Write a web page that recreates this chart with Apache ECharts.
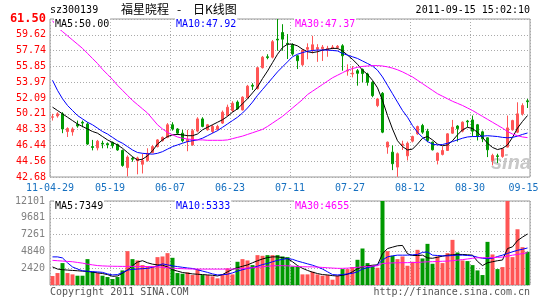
<!DOCTYPE html>
<html><head><meta charset="utf-8">
<script src="https://cdn.jsdelivr.net/npm/echarts/dist/echarts.min.js"></script>
<style>html,body{margin:0;padding:0;background:#fff;}#c{width:545px;height:300px;}</style>
</head><body><div id="c"></div>
<script>
const categories = ['05-03','05-04','05-05','05-06','05-09','05-10','05-11','05-12','05-13','05-16','05-17','05-18','05-19','05-20','05-23','05-24','05-25','05-26','05-27','05-30','05-31',
'06-01','06-02','06-03','06-07','06-08','06-09','06-10','06-13','06-14','06-15','06-16','06-17','06-20','06-21','06-22','06-23','06-24','06-27','06-28','06-29','06-30',
'07-01','07-04','07-05','07-06','07-07','07-08','07-11','07-12','07-13','07-14','07-15','07-18','07-19','07-20','07-21','07-22','07-25','07-26','07-27','07-28','07-29',
'08-01','08-02','08-03','08-04','08-05','08-08','08-09','08-10','08-11','08-12','08-15','08-16','08-17','08-18','08-19','08-22','08-23','08-24','08-25','08-26','08-29','08-30','08-31',
'09-01','09-02','09-05','09-06','09-07','09-08','09-09','09-13','09-14','09-15'];
const dateTicks = ['11-04-29','05-19','06-07','06-23','07-11','07-27','08-12','08-30','09-15'];
const priceTicks = ['42.68','44.56','46.44','48.33','50.21','52.09','53.97','55.85','57.74','59.62','61.50'];
const volTicks = ['','2420','4840','7261','9681','12101'];
const priceMin = 42.68, priceMax = 61.50, volMax = 12101;

const openP = [49.80,49.95,50.20,48.10,48.05,48.95,49.20,49.00,46.30,46.15,
46.70,46.65,46.80,46.55,45.84,43.80,44.90,44.60,44.20,44.65,
45.60,46.30,47.00,47.40,48.90,48.40,47.90,46.90,46.50,48.15,
49.60,48.30,48.10,48.35,49.10,50.00,50.60,51.60,50.67,52.10,
53.60,53.20,55.70,57.00,56.95,59.10,59.89,58.60,58.43,57.12,
56.05,57.90,57.80,57.90,57.95,57.80,58.00,58.10,58.31,55.30,
54.95,55.34,55.50,54.95,53.96,51.19,52.65,46.24,45.64,43.86,
46.45,45.20,46.95,47.82,48.81,48.14,46.83,44.65,45.37,45.84,
47.90,48.75,48.14,49.35,49.48,48.90,48.06,47.35,44.65,45.20,
45.13,46.24,48.30,48.02,50.20,51.75];
const closeP = [49.85,50.20,48.40,48.45,48.40,48.75,49.10,46.60,46.20,46.95,
46.60,46.50,46.40,45.90,44.06,45.05,44.80,44.95,44.65,45.50,
46.30,47.10,47.40,48.90,48.40,47.90,47.00,47.15,48.20,49.60,
48.70,48.90,48.70,48.70,50.40,50.99,51.46,50.80,52.18,53.50,
53.50,55.70,56.95,56.90,58.80,59.00,59.10,58.50,57.32,56.53,
57.80,58.10,58.43,58.10,58.15,58.00,58.15,58.25,57.12,55.40,
55.05,55.03,55.00,53.96,52.37,51.98,48.02,46.83,44.26,45.45,
46.60,46.70,47.50,48.69,48.02,47.03,45.92,45.53,45.84,47.82,
48.61,48.45,49.21,49.25,48.14,47.50,47.23,45.92,45.25,45.13,
46.04,48.53,49.40,50.20,51.19,51.65];
const lowP = [49.40,49.75,47.90,47.45,47.60,48.55,48.60,46.50,45.85,45.85,
46.10,46.10,46.10,45.80,43.90,42.75,44.50,43.00,43.10,44.50,
45.50,46.20,46.90,47.30,48.20,47.70,46.80,45.75,46.40,48.00,
48.60,48.20,47.90,48.20,49.00,49.90,50.40,50.70,50.60,52.05,
53.05,53.10,55.60,56.70,56.80,57.72,57.72,56.73,57.12,55.54,
55.90,56.70,57.40,56.40,56.50,57.00,57.90,57.90,55.34,54.75,
54.55,53.56,53.96,53.56,52.18,51.00,47.90,45.45,43.50,42.70,
45.90,44.65,46.80,47.70,47.82,46.83,45.84,44.18,45.25,45.80,
47.82,46.90,48.00,48.60,47.50,47.03,46.83,45.05,44.06,44.34,
44.97,46.20,48.20,47.90,50.00,50.90];
const highP = [50.20,50.40,50.40,48.60,48.60,49.40,49.40,49.20,47.10,47.10,
47.00,46.80,46.90,46.65,45.95,45.25,45.10,45.10,45.45,46.10,
46.50,47.20,47.50,49.10,49.20,48.50,48.30,48.30,48.40,49.80,
49.80,49.00,48.90,48.90,50.60,51.30,51.70,51.80,52.30,53.65,
53.85,55.80,57.10,57.30,59.00,61.50,60.88,59.70,58.60,57.20,
57.90,58.60,59.50,58.50,58.40,58.30,58.40,58.40,58.50,56.10,
55.90,55.54,55.60,55.10,54.10,52.10,52.80,46.90,46.44,45.60,
47.00,46.90,47.60,48.80,49.01,48.42,46.90,45.60,46.32,47.90,
49.48,48.85,49.30,49.48,50.00,49.00,48.20,47.40,45.45,45.45,
46.10,50.00,49.50,51.58,51.46,51.98];

const ma5 = [51.0,50.6,50.2,49.8,49.4,49.0,48.7,48.4,48.1,47.9,
47.5,47.1,46.8,46.5,46.1,45.6,45.1,44.7,44.8,45.2,
45.8,46.6,47.1,47.5,47.7,47.75,47.7,47.6,47.6,47.8,
48.3,48.6,48.9,49.2,49.5,49.9,50.4,50.8,51.4,52.0,
52.7,53.4,54.4,55.3,56.3,57.3,58.1,58.5,58.5,58.3,
57.9,57.6,57.5,57.6,57.8,57.9,58.0,58.0,57.7,57.2,
56.7,56.1,55.4,54.9,54.2,53.3,51.8,50.0,48.4,47.0,
46.3,45.9,46.0,46.6,47.3,47.5,47.1,46.6,46.4,46.5,
47.0,47.7,48.3,48.6,48.45,48.0,47.4,46.7,46.2,45.95,
46.1,46.5,47.4,48.5,49.3,50.0];
const ma10 = [54.2,53.0,52.0,51.2,50.6,50.0,49.6,49.2,48.9,48.5,
48.1,47.8,47.4,47.0,46.7,46.3,45.9,45.6,45.5,45.45,
45.4,45.5,45.7,46.0,46.3,46.5,46.7,46.9,47.0,47.1,
47.3,47.6,47.9,48.2,48.6,49.0,49.4,49.8,50.3,50.9,
51.6,52.4,53.1,53.8,54.5,55.2,55.8,56.4,57.0,57.3,
57.5,57.65,57.75,57.8,57.8,57.8,57.75,57.7,57.4,57.2,
57.0,56.8,56.5,56.2,55.9,55.4,54.6,53.6,52.6,51.6,
50.6,49.8,48.8,48.0,47.4,46.9,46.6,46.5,46.55,46.7,
46.9,47.1,47.3,47.45,47.5,47.5,47.55,47.6,47.55,47.5,
47.4,47.35,47.4,47.55,47.75,47.92];
const ma30 = [61.3,60.5,60.0,59.5,59.0,58.5,58.0,57.4,56.8,56.2,
55.5,54.9,54.3,53.6,53.0,52.4,51.8,51.3,50.8,50.3,
49.6,48.9,48.4,48.0,47.7,47.45,47.3,47.2,47.15,47.1,
47.1,47.05,47.05,47.05,47.05,47.1,47.25,47.4,47.55,47.75,
47.95,48.15,48.35,48.7,49.1,49.5,49.9,50.4,50.9,51.4,
51.9,52.5,52.9,53.3,53.7,54.1,54.5,54.8,55.1,55.4,
55.6,55.75,55.85,55.9,55.95,55.95,55.9,55.8,55.65,55.45,
55.2,54.9,54.6,54.2,53.8,53.4,53.0,52.6,52.3,52.0,
51.7,51.45,51.2,50.9,50.6,50.25,49.9,49.55,49.2,48.85,
48.5,48.1,47.8,47.6,47.45,47.37];

const volume = [1291,1721,3155,1721,1530,1338,1338,3728,1912,1721,
1338,1147,860,1147,2103,4876,3728,3537,2868,2677,
2677,4015,4111,4589,3920,1721,1625,1816,1434,2294,
1434,1434,1243,956,1530,2390,1530,3346,3728,3537,
2868,4302,4206,4302,4302,4302,4111,4015,2677,2677,
1530,1530,1912,1530,1338,1434,765,1338,2294,2294,
2581,3633,5258,3155,2772,2486,12800,4876,4206,3728,
4111,2772,3346,5067,3824,5927,3059,4111,3155,4589,
6501,4684,3537,3442,2868,2103,1434,6214,4398,2294,
2581,14200,4015,8030,5449,4780];
const volMa5 = [2600,2300,2200,2150,2100,2050,2000,1950,1850,1750,
1650,1500,1250,1300,1700,2150,2800,3300,3500,3200,
3000,2900,2850,2600,2200,2000,1800,1700,1600,1550,
1500,1450,1400,1300,1500,1900,2250,2500,2700,2900,
3200,3500,3750,3950,4050,4050,3950,3800,3350,2800,
2400,2100,1850,1650,1500,1450,1350,1300,1400,1550,
1900,2350,2600,2750,2850,2900,4500,5250,5450,5650,
5700,4500,4250,4250,4300,3900,3850,4000,4150,4300,
4350,4400,4400,4350,4300,3400,2800,3200,3350,3500,
3600,5250,5500,6400,6900,7349];
const volMa10 = [4050,4050,3900,3200,2600,2300,2050,1980,1920,1880,
1820,1600,1450,1500,1800,2150,2250,2300,2350,2400,
2550,2750,3050,2900,2750,2650,2550,2450,2380,2200,
2000,1820,1600,1450,1480,1550,1750,2000,2200,2400,
2500,2700,2950,3100,3350,3550,3700,3800,3700,3450,
3250,3050,2850,2600,2300,1900,1500,1450,1500,1600,
1680,1900,2300,2500,2650,2900,3600,4050,4200,4300,
4300,4300,4350,4400,4700,4750,4300,4250,4200,4200,
4250,4300,4300,4250,4200,4000,3850,3800,3850,4100,
4300,4550,4780,5000,5150,5333];
const volMa30 = [3550,3500,3450,3400,3350,3250,3150,3000,2900,2800,
2750,2720,2700,2690,2680,2680,2680,2680,2670,2660,
2640,2600,2560,2500,2420,2380,2350,2320,2300,2300,
2290,2290,2290,2290,2290,2300,2300,2330,2380,2430,
2480,2550,2620,2700,2760,2780,2780,2760,2720,2660,
2630,2620,2610,2580,2530,2480,2440,2400,2400,2430,
2480,2550,2620,2670,2720,2770,3100,3150,3180,3200,
3210,3220,3230,3250,3300,3340,3360,3390,3420,3440,
3500,3580,3660,3750,3850,3920,3930,3930,3950,3980,
4020,4150,4300,4400,4520,4655];

const priceMaLabels = ['MA5:50.00','MA10:47.92','MA30:47.37'];
const volMaLabels = ['MA5:7349','MA10:5333','MA30:4655'];
const titleCode = 'sz300139';
const titleName = '福星晓程';
const titleDash = '-';
const titleKind = '日K线图';
const timeStamp = '2011-09-15 15:02:10';
const footLeft = 'Copyright 2011 SINA.COM';
const footRight = 'http://finance.sina.com.cn';

const UP = '#ff5555', DOWN = '#009900';
const MONO = '"DejaVu Sans Mono", "Liberation Mono", monospace';
const CJK = '"Noto Sans CJK SC", sans-serif';
const maColors = ['#000000', '#0000ff', '#ff00ff'];

const chart = echarts.init(document.getElementById('c'), null, {renderer: 'canvas'});
const dotted = {show: true, lineStyle: {color: '#aaaaaa', type: [1, 2], width: 1}};
const gridP = {left: 50, top: 19, width: 480, height: 158};
const gridV = {left: 50, top: 201, width: 480, height: 84};

const candleData = categories.map((_, i) => [openP[i], closeP[i], lowP[i], highP[i]]);

function maSeries(name, data, xi, yi, color) {
  return {name, type: 'line', xAxisIndex: xi, yAxisIndex: yi, data, showSymbol: false, symbol: 'none',
    smooth: false, lineStyle: {color, width: 1}, itemStyle: {color}, silent: true, animation: false, z: 5};
}

function legendTexts(labels, y) {
  const xs = [54, 175, 294];
  return labels.map((t, k) => ({type: 'text', x: xs[k], y: y, z: 100,
    style: {text: t, fill: maColors[k], font: '10px ' + MONO, verticalAlign: 'middle', backgroundColor: '#fff', padding: [1, 1, 1, 1]}}));
}

const option = {
  animation: false,
  backgroundColor: '#ffffff',
  grid: [
    Object.assign({show: true, borderColor: '#999999', borderWidth: 1, backgroundColor: 'transparent', containLabel: false, outerBoundsMode: 'none'}, gridP),
    Object.assign({show: true, borderColor: '#999999', borderWidth: 1, backgroundColor: 'transparent', containLabel: false, outerBoundsMode: 'none'}, gridV)
  ],
  xAxis: [
    {type: 'category', gridIndex: 0, data: categories, boundaryGap: true, show: false},
    {type: 'value', gridIndex: 0, min: 0, max: 8, interval: 1, position: 'bottom',
      axisLine: {show: false}, axisTick: {show: false}, splitLine: dotted,
      axisLabel: {show: true, margin: 6, fontSize: 10, fontFamily: MONO, color: '#1670c0',
        formatter: v => { const k = Math.round(v); return k === 8 ? '{l|' + dateTicks[k] + '}' : dateTicks[k]; },
        rich: {l: {fontSize: 10, fontFamily: MONO, color: '#1670c0', padding: [0, 13, 0, 0]}}}},
    {type: 'category', gridIndex: 1, data: categories, boundaryGap: true, show: false},
    {type: 'value', gridIndex: 1, min: 0, max: 8, interval: 1, position: 'bottom',
      axisLine: {show: false}, axisTick: {show: false}, splitLine: dotted, axisLabel: {show: false}}
  ],
  yAxis: [
    {type: 'value', gridIndex: 0, min: priceMin, max: priceMax, show: false, scale: true, splitLine: {show: false}},
    {type: 'value', gridIndex: 0, min: 0, max: 10, interval: 1, position: 'left',
      axisLine: {show: false}, axisTick: {show: false}, splitLine: dotted,
      axisLabel: {margin: 4, fontSize: 10, fontFamily: MONO, color: '#ff0000',
        formatter: v => { const k = Math.round(v); return k === 10 ? '{b|' + priceTicks[k] + '}' : priceTicks[k]; },
        rich: {b: {fontSize: 12, fontWeight: 'bold', fontFamily: MONO, color: '#ff0000'}}}},
    {type: 'value', gridIndex: 1, min: 0, max: volMax, show: false, splitLine: {show: false}},
    {type: 'value', gridIndex: 1, min: 0, max: 5, interval: 1, position: 'left',
      axisLine: {show: false}, axisTick: {show: false}, splitLine: dotted,
      axisLabel: {margin: 5, fontSize: 10, fontFamily: MONO, color: '#808080',
        formatter: v => volTicks[Math.round(v)]}}
  ],
  series: [
    {type: 'candlestick', xAxisIndex: 0, yAxisIndex: 0, data: candleData, barWidth: 3, z: 3,
      itemStyle: {color: UP, color0: DOWN, borderColor: UP, borderColor0: DOWN, borderWidth: 1}},
    maSeries('MA5', ma5, 0, 0, maColors[0]),
    maSeries('MA10', ma10, 0, 0, maColors[1]),
    maSeries('MA30', ma30, 0, 0, maColors[2]),
    {type: 'bar', xAxisIndex: 2, yAxisIndex: 2, data: volume, barWidth: 4, z: 3,
      itemStyle: {color: p => (closeP[p.dataIndex] >= openP[p.dataIndex] ? UP : DOWN)}},
    maSeries('VMA5', volMa5, 2, 2, maColors[0]),
    maSeries('VMA10', volMa10, 2, 2, maColors[1]),
    maSeries('VMA30', volMa30, 2, 2, maColors[2])
  ],
  graphic: [
    {type: 'text', x: 50, y: 10, z: 100, style: {text: titleCode, fill: '#000', font: '10px ' + MONO, verticalAlign: 'middle'}},
    {type: 'text', x: 121, y: 9, z: 100, style: {text: titleName, fill: '#000', font: '12px ' + CJK, verticalAlign: 'middle'}},
    {type: 'text', x: 179, y: 9, z: 100, style: {text: titleDash, fill: '#000', font: '12px ' + CJK, align: 'center', verticalAlign: 'middle'}},
    {type: 'text', x: 193, y: 9, z: 100, style: {text: titleKind, fill: '#000', font: '12px ' + CJK, verticalAlign: 'middle'}},
    {type: 'text', x: 530, y: 10, z: 100, style: {text: timeStamp, fill: '#000', font: '10px ' + MONO, align: 'right', verticalAlign: 'middle'}},
    {type: 'text', x: 50, y: 292, z: 100, style: {text: footLeft, fill: '#555', font: '10px ' + MONO, verticalAlign: 'middle'}},
    {type: 'text', x: 530, y: 292, z: 100, style: {text: footRight, fill: '#555', font: '10px ' + MONO, align: 'right', verticalAlign: 'middle'}},
    {type: 'text', x: 491, y: 163, z: 1, style: {text: 'sina', fill: '#c8c8c8', font: 'italic bold 20px "Liberation Sans"', verticalAlign: 'middle'}}
  ].concat(legendTexts(priceMaLabels, 24)).concat(legendTexts(volMaLabels, 206))
};
chart.setOption(option);
</script></body></html>
